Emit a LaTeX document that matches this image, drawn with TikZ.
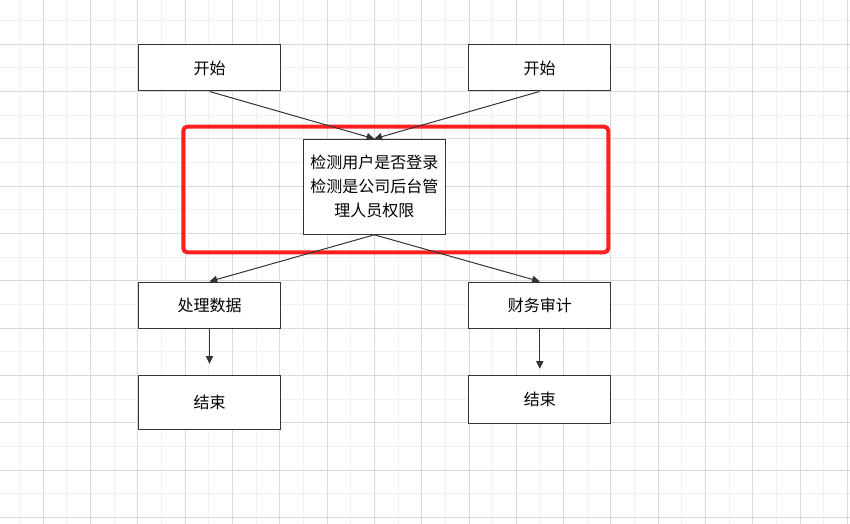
\documentclass[tikz,border=0pt]{standalone}
\usepackage{fontspec}
\setmainfont{Noto Sans CJK SC}
\usepackage{tikz}
\usetikzlibrary{arrows.meta, positioning}
\definecolor{gridlo}{HTML}{F0F0F0}
\definecolor{gridhi}{HTML}{DADADA}
\definecolor{boxline}{HTML}{333333}
\definecolor{markred}{HTML}{FF1F1F}

\begin{document}
\begin{tikzpicture}[x=0.75pt, y=-0.75pt,
        font=\fontsize{12}{18}\selectfont,
        box/.style={draw=boxline, line width=0.75pt, fill=white, inner sep=2pt,
                    minimum width=106.5pt, minimum height=34.5pt, align=center},
        flow/.style={-{Triangle[length=5.8pt, width=5.5pt]}, boxline, line width=0.75pt}]
        \useasboundingbox (0,0) rectangle (850,524);
        % grid
        \foreach \i in {0,...,17}
          \draw[gridlo, line width=0.75pt] (19.65+47.3*\i,0) -- (19.65+47.3*\i,524);
        \foreach \i in {0,...,10}
          \draw[gridlo, line width=0.75pt] (0,20.65+47.3*\i) -- (850,20.65+47.3*\i);
        \foreach \i in {0,...,17}
          \draw[gridhi, line width=0.75pt] (43.3+47.3*\i,0) -- (43.3+47.3*\i,524);
        \foreach \i in {0,...,10}
          \draw[gridhi, line width=0.75pt] (0,44.3+47.3*\i) -- (850,44.3+47.3*\i);
        % highlight frame
        \draw[markred, line width=3pt, rounded corners=3pt] (183.3,126.7) rectangle (608.3,252.3);
        \node[box] (s1) at (209.5,68) {开始};
        \node[box] (s2) at (539.5,68) {开始};
        \node[box, minimum height=71.25pt] (chk) at (374.3,186.8)
          {检测用户是否登录\\检测是公司后台管\\理人员权限};
        \node[box] (proc) at (209.5,305) {处理数据};
        \node[box] (audit) at (539.8,305) {财务审计};
        \node[box, minimum height=40.3pt] (e1) at (209.5,402.5) {结束};
        \node[box, minimum height=35.8pt] (e2) at (539.8,399.5) {结束};
        \draw[flow] (s1.south) -- (chk.north);
        \draw[flow] (s2.south) -- (chk.north);
        \draw[flow] (chk.south) -- (proc.north);
        \draw[flow] (chk.south) -- (audit.north);
        \draw[flow, shorten >=8.5pt] (proc) -- (e1);
        \draw[flow, shorten >=4.8pt] (audit) -- (e2);
      \end{tikzpicture}
\end{document}
